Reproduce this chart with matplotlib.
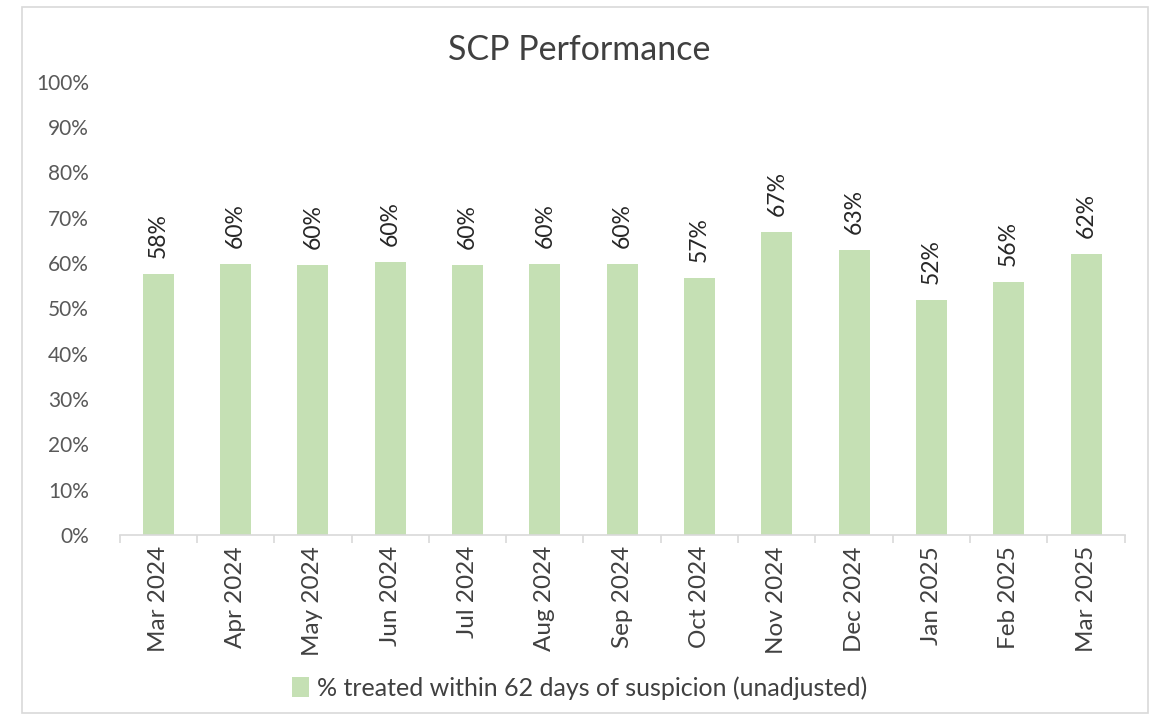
import matplotlib.pyplot as plt
from matplotlib.patches import Rectangle
import numpy as np

plt.rcParams['font.family'] = ['Lato', 'DejaVu Sans']

months = ['Mar 2024', 'Apr 2024', 'May 2024', 'Jun 2024', 'Jul 2024', 'Aug 2024',
          'Sep 2024', 'Oct 2024', 'Nov 2024', 'Dec 2024', 'Jan 2025', 'Feb 2025', 'Mar 2025']
pct_treated = [57.5, 59.8, 59.5, 60.2, 59.5, 59.8, 59.8, 56.7, 66.9, 62.8, 51.8, 55.8, 62.0]
series_name = '% treated within 62 days of suspicion (unadjusted)'

bar_col = '#c5e0b4'
txt_col = '#595959'

fig = plt.figure(figsize=(11.5, 7.18), dpi=100)
ax = fig.add_axes([0.104, 0.255, 0.874, 0.631])

x = np.arange(len(months))
ax.bar(x, pct_treated, width=0.4, color=bar_col, label=series_name, zorder=2)

for xi, v in zip(x, pct_treated):
    ax.text(xi, v + 3.6, '{:.0f}%'.format(v), rotation=90, ha='center', va='bottom',
            fontsize=16.5, color='#262626')

ax.set_ylim(0, 100)
ax.set_xlim(-0.5, len(months) - 0.5)
ax.set_yticks(np.arange(0, 101, 10))
ax.set_yticklabels(['{}%'.format(t) for t in range(0, 101, 10)])
ax.tick_params(axis='y', length=0, labelsize=15, labelcolor=txt_col, pad=22)

# category labels in the middle, ticks at the boundaries
ax.set_xticks(x)
ax.set_xticklabels(months, rotation=90)
ax.tick_params(axis='x', which='major', length=0, labelsize=17.5, labelcolor='#404040', pad=8)
ax.set_xticks(np.arange(-0.5, len(months), 1), minor=True)
ax.tick_params(axis='x', which='minor', length=6, color='#d9d9d9', width=1.2, direction='out')

for s in ['top', 'right', 'left']:
    ax.spines[s].set_visible(False)
ax.spines['bottom'].set_color('#d9d9d9')
ax.spines['bottom'].set_linewidth(1.2)

fig.text(0.504, 0.93, 'SCP Performance', ha='center', va='center', fontsize=24.5, color='#404040')

fig.legend(loc='center', bbox_to_anchor=(0.504, 0.042), frameon=False, fontsize=18,
           handlelength=0.7, handleheight=0.8, handletextpad=0.3, labelcolor='#404040')

# outer chart border
fig.patches.append(Rectangle((0.019, 0.007), 0.979, 0.983, transform=fig.transFigure,
                             fill=False, edgecolor='#d9d9d9', linewidth=1.2))

fig.savefig('out.png', dpi=100)
